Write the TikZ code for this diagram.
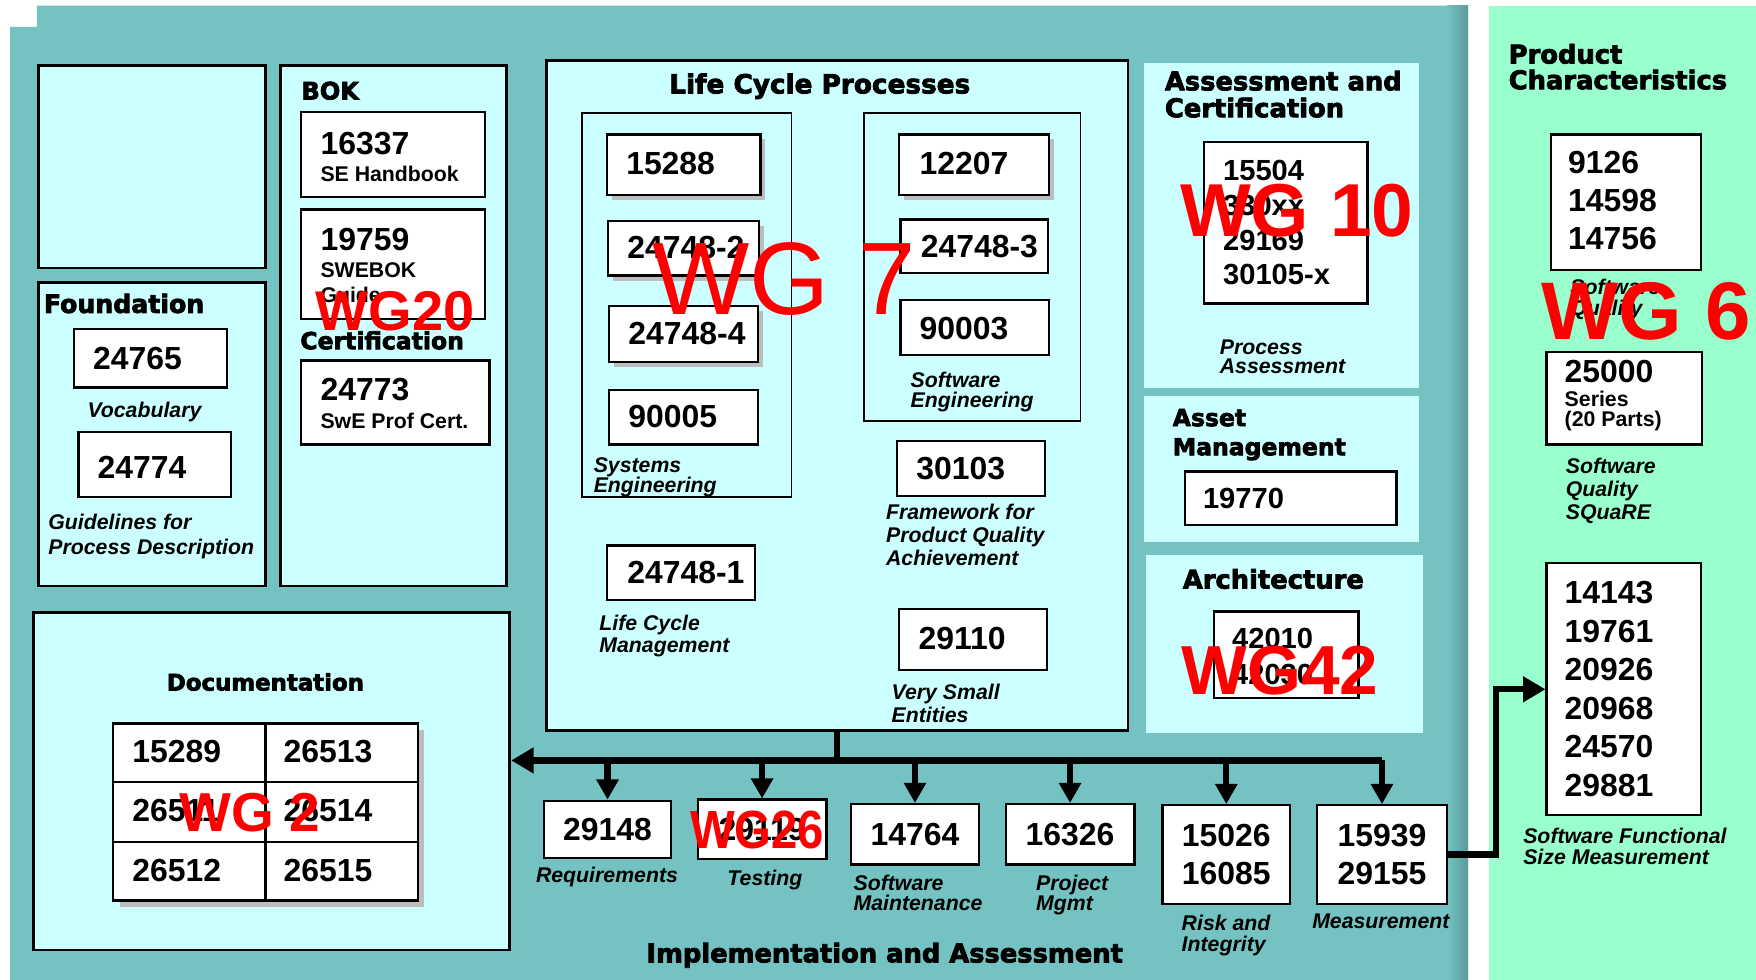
\documentclass[tikz,border=0pt]{standalone}
\usepackage{fontspec}
\setmainfont{Liberation Sans}
\newfontfamily\hdfont{DejaVu Sans Bold}[FakeBold=3]
\usetikzlibrary{arrows.meta,shadows,calc}
\definecolor{tealbg}{HTML}{74C2C2}
\definecolor{tealdk}{HTML}{5A9A9A}
\definecolor{cyanbg}{HTML}{CCFFFF}
\definecolor{greenbg}{HTML}{99FFCC}
\definecolor{shgray}{HTML}{BDBDBD}
\begin{document}
\begin{tikzpicture}[x=1pt,y=-1pt,
  panel/.style={draw=black,line width=2.5pt,fill=cyanbg,anchor=north west,inner sep=0},
  grp/.style={draw=black,line width=1.6pt,anchor=north west,inner sep=0},
  box/.style={draw=black,line width=2pt,fill=white,anchor=north west,inner sep=0},
  shbox/.style={box,general shadow={fill=shgray,shadow xshift=4.5pt,shadow yshift=-4.5pt}},
  num/.style={font=\bfseries\fontsize{#1}{#1}\selectfont,inner sep=0,anchor=west},
  num/.default=28.5,
  numl/.style 2 args={font=\bfseries\fontsize{#1}{#2}\selectfont,inner sep=0,anchor=north west,align=left},
  sub/.style={font=\bfseries\fontsize{19}{19}\selectfont,inner sep=0,anchor=west},
  lab/.style 2 args={font=\bfseries\itshape\fontsize{#1}{#2}\selectfont,inner sep=0,anchor=north west,align=left},
  hd/.style 2 args={font=\hdfont\fontsize{#1}{#2}\selectfont,inner sep=0,anchor=north west,align=left},
  wg/.style={text=red,inner sep=0},
  bus/.style={line width=5.5pt,draw=black},
  tipA/.style={-{Triangle[length=20pt,width=22pt]}},
  tipB/.style={-{Triangle[length=18pt,width=19pt]}}
]
\useasboundingbox (0,0) rectangle (1568,875);
% backgrounds
\fill[tealbg] (33,5) -- (1311,5) -- (1311,875) -- (9,875) -- (9,24) -- (33,24) -- cycle;
\shade[left color=tealbg,right color=tealdk] (1292,5) rectangle (1311,875);
\fill[greenbg] (1330,5) rectangle (1568,875);

% panels
\node[panel,minimum width=203,minimum height=181] (blank) at (33,57) {};
\node[panel,minimum width=203,minimum height=271] (found) at (33,251) {};
\node[panel,minimum width=202,minimum height=465] (bok) at (249,57) {};
\node[panel,minimum width=425,minimum height=301] (doc) at (29,546) {};
\node[panel,minimum width=519,minimum height=598] (lcp) at (487,53) {};
\node[panel,draw=none,minimum width=246,minimum height=290] (assess) at (1020,55) {};
\node[panel,draw=none,minimum width=246,minimum height=131] (asset) at (1020,352) {};
\node[panel,draw=none,minimum width=247,minimum height=159] (arch) at (1022,494) {};

% BOK
\node[hd={21.5}{22},anchor=west] (bokT) at (269,81) {BOK};
\node[box,minimum width=164,minimum height=76] (b16337) at (268,99) {};
\node[num] (t16337) at (286,128) {16337};
\node[sub] (tSEH) at (286,155) {SE Handbook};
\node[box,minimum width=164,minimum height=98] (b19759) at (268,186) {};
\node[num] (t19759) at (286,214) {19759};
\node[sub] (tSWE) at (286,241) {SWEBOK};
\node[sub] (tGuide) at (286,263) {Guide};
\node[hd={21}{22},anchor=west] (certT) at (268,304) {Certification};
\node[box,minimum width=168,minimum height=75] (b24773) at (268,321) {};
\node[num] (t24773) at (286,348) {24773};
\node[sub] (tSwE) at (286,376) {SwE Prof Cert.};

% Foundation
\node[hd={22.5}{23},anchor=west] (foundT) at (39,271) {Foundation};
\node[box,minimum width=137,minimum height=52] (b24765) at (65,293) {};
\node[num] (t24765) at (83,320) {24765};
\node[lab={19}{19},anchor=center] (tVoc) at (129,368) {Vocabulary};
\node[box,minimum width=136,minimum height=58] (b24774) at (69,385) {};
\node[num] (t24774) at (87,417) {24774};
\node[lab={19}{22}] (tGuid) at (43,459) {Guidelines for\\Process Description};

% Documentation
\node[hd={20.4}{22},anchor=center] (docT) at (237,609) {Documentation};
\node[box,general shadow={fill=shgray,shadow xshift=6pt,shadow yshift=-6pt},minimum width=272,minimum height=158] (dtab) at (100,645) {};
\draw[line width=2pt] (dtab.north) -- (dtab.south);
\draw[line width=2pt] ($(dtab.north west)!0.3333!(dtab.south west)$) -- ($(dtab.north east)!0.3333!(dtab.south east)$);
\draw[line width=2pt] ($(dtab.north west)!0.6667!(dtab.south west)$) -- ($(dtab.north east)!0.6667!(dtab.south east)$);
\node[num] (d1) at (118,671) {15289};
\node[num] (d2) at (253,671) {26513};
\node[num] (d3) at (118,724) {26511};
\node[num] (d4) at (253,724) {26514};
\node[num] (d5) at (118,777) {26512};
\node[num] (d6) at (253,777) {26515};

% Life Cycle Processes
\node[hd={23.5}{24},anchor=center] (lcpT) at (732,77) {Life Cycle Processes};
\node[grp,minimum width=187,minimum height=343] (sysg) at (519,100) {};
\node[shbox,minimum width=137,minimum height=54] (b15288) at (541,119) {};
\node[num] (t15288) at (559,146) {15288};
\node[shbox,minimum width=135,minimum height=49] (b247482) at (542,196) {};
\node[num] (t247482) at (560,221) {24748-2};
\node[shbox,minimum width=133,minimum height=50] (b247484) at (543,272) {};
\node[num] (t247484) at (561,298) {24748-4};
\node[box,minimum width=133,minimum height=49] (b90005) at (543,347) {};
\node[num] (t90005) at (561,372) {90005};
\node[lab={19}{18}] (lsys) at (530,408) {Systems\\Engineering};

\node[grp,minimum width=193,minimum height=275] (swg) at (771,100) {};
\node[shbox,minimum width=134,minimum height=54] (b12207) at (802,119) {};
\node[num] (t12207) at (821,146) {12207};
\node[box,minimum width=132,minimum height=48] (b247483) at (803,195) {};
\node[num] (t247483) at (822,220) {24748-3};
\node[box,minimum width=133,minimum height=49] (b90003) at (803,267) {};
\node[num] (t90003) at (821,293) {90003};
\node[lab={19}{18}] (lsw) at (813,332) {Software\\Engineering};

\node[box,minimum width=132,minimum height=49] (b30103) at (800,393) {};
\node[num] (t30103) at (818,418) {30103};
\node[lab={19}{20.5}] (lfw) at (791,450) {Framework for\\Product Quality\\Achievement};
\node[box,minimum width=132,minimum height=49] (b247481) at (541,486) {};
\node[num] (t247481) at (560,511) {24748-1};
\node[lab={19}{20}] (llcm) at (535,549) {Life Cycle\\Management};
\node[box,minimum width=132,minimum height=54] (b29110) at (802,543) {};
\node[num] (t29110) at (820,570) {29110};
\node[lab={19}{20}] (lvse) at (796,611) {Very Small\\Entities};

% Assessment and Certification
\node[hd={23}{24}] (assT) at (1040,63) {Assessment and\\Certification};
\node[box,minimum width=146,minimum height=144] (bass) at (1074,126) {};
\node[numl={26}{31}] (tass) at (1092,143) {15504\\330xx\\29169\\30105-x};
\node[lab={19}{17}] (lpa) at (1089,303) {Process\\Assessment};

% Asset Management
\node[hd={21}{26}] (astT) at (1047,365) {Asset\\Management};
\node[box,minimum width=189,minimum height=48] (b19770) at (1057,420) {};
\node[num=26] (t19770) at (1074,445) {19770};

% Architecture
\node[hd={23}{24},anchor=center] (archT) at (1137,517) {Architecture};
\node[box,minimum width=129,minimum height=77] (barch) at (1083,545) {};
\node[numl={26}{32}] (tarch) at (1100,561) {42010\\42030};

% Product Characteristics
\node[hd={23}{23}] (prodT) at (1347,39) {Product\\Characteristics};
\node[box,minimum width=134,minimum height=121] (bq) at (1384,119) {};
\node[numl={28.5}{34}] (tq) at (1400,135) {9126\\14598\\14756};
\node[lab={19}{19}] (lsq) at (1402,249) {Software\\Quality};
\node[box,minimum width=139,minimum height=83] (bsq) at (1380,313) {};
\node[num] (t25000) at (1397,332) {25000};
\node[sub] (tser) at (1397,356) {Series};
\node[sub] (t20p) at (1397,376) {(20 Parts)};
\node[lab={19}{20.5}] (lsqr) at (1398,409) {Software\\Quality\\SQuaRE};
\node[box,minimum width=138,minimum height=225] (fsm) at (1380,502) {};
\node[numl={28.5}{34.4}] (tfsm) at (1397,519) {14143\\19761\\20926\\20968\\24570\\29881};
\node[lab={19}{19}] (lfsm) at (1360,739) {Software Functional\\Size Measurement};

% Implementation and Assessment
\node[box,minimum width=113,minimum height=51] (req) at (485,714) {};
\node[num,anchor=center] (treq) at (req.center) {29148};
\node[box,minimum width=115,minimum height=53] (test) at (622,713) {};
\node[num,anchor=center] (ttest) at (test.center) {29119};
\node[box,minimum width=114,minimum height=54] (maint) at (759,717) {};
\node[num,anchor=center] (tmaint) at (maint.center) {14764};
\node[box,minimum width=115,minimum height=54] (pm) at (897,717) {};
\node[num,anchor=center] (tpm) at (pm.center) {16326};
\node[box,minimum width=114,minimum height=88] (risk) at (1037,718) {};
\node[numl={28.5}{34},anchor=center,align=center] (trisk) at (risk.center) {15026\\16085};
\node[box,minimum width=116,minimum height=88] (meas) at (1175,718) {};
\node[numl={28.5}{34},anchor=center,align=center] (tmeas) at (meas.center) {15939\\29155};

\node[lab={19}{19},anchor=center] (lreq) at (542,783) {Requirements};
\node[lab={19}{19},anchor=center] (ltest) at (683,786) {Testing};
\node[lab={19}{18}] (lmaint) at (762,781) {Software\\Maintenance};
\node[lab={19}{18}] (lpm) at (925,781) {Project\\Mgmt};
\node[lab={19}{19}] (lrisk) at (1055,817) {Risk and\\Integrity};
\node[lab={19}{19},anchor=center] (lmeas) at (1233,823) {Measurement};
\node[hd={23}{24},anchor=center] (implT) at (790,853) {Implementation and Assessment};

% connectors
\coordinate (busR) at (1234,679);
\coordinate (elbow) at (1336,0);
\draw[bus,line cap=rect] (lcp.south) -- (lcp.south |- busR);
\draw[bus,tipA] (busR) -- (busR -| doc.east);
\foreach \n in {req,test,maint,pm,risk,meas}
  \draw[bus,tipB] (\n.north |- busR) -- (\n.north);
\draw[bus,tipA] (meas.east) -- (meas.east -| elbow) -- (elbow |- fsm.west) -- (fsm.west);

% working group labels
\node[wg,font=\bfseries\fontsize{50}{50}\selectfont] (wg20) at (353,278) {WG20};
\node[wg,font=\fontsize{92}{92}\selectfont] (wg7) at (700,249) {WG 7};
\node[wg,font=\bfseries\fontsize{67}{67}\selectfont] (wg10) at (1158,188) {WG 10};
\node[wg,font=\bfseries\fontsize{62}{62}\selectfont] (wg42) at (1143,599) {WG42};
\node[wg,font=\bfseries\fontsize{73}{73}\selectfont] (wg6) at (1470,278) {WG 6};
\node[wg,font=\bfseries\fontsize{49}{49}\selectfont] (wg2) at (223,726) {WG 2};
\node[wg,font=\bfseries\fontsize{48}{48}\selectfont] (wg26) at (676,741) {\scalebox{0.88}[1]{WG26}};
\end{tikzpicture}
\end{document}
